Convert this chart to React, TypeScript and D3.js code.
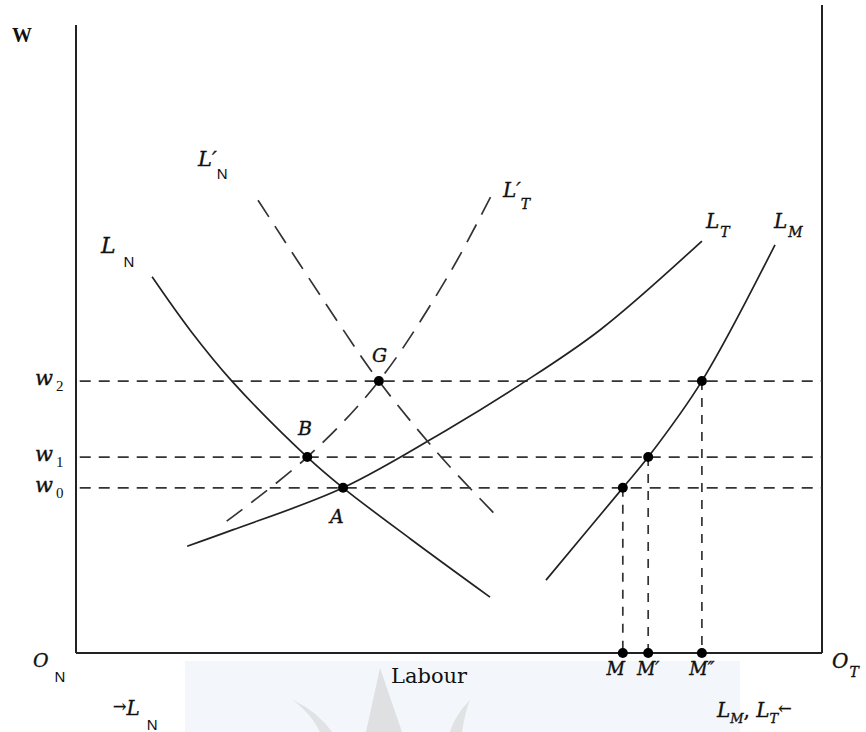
import React from 'react';
import * as d3 from 'd3';

// wage levels w0, w1, w2
const wageSubs = ['0', '1', '2'];
const wages = [26.3, 31.2, 43.3];

// equilibrium points on the left side
const pointNames = ['A', 'B', 'G'];
const pointX = [35.8, 31.0, 40.6];

// points on L_M and their feet on the horizontal axis
const mNames = ['M', 'M\u2032', 'M\u2033'];
const mX = [73.3, 76.7, 83.9];

// curves, [labour, wage]
const curveLN = [[10.2, 59.9], [15.3, 51.4], [20.9, 43.3], [31.0, 31.2], [35.8, 26.3], [44.8, 18.2], [55.5, 8.9]];
const curveLT = [[14.9, 17.0], [21.0, 19.6], [35.8, 26.3], [50.1, 35.8], [59.5, 42.7], [70.2, 51.4], [83.9, 65.6]];
const curveLM = [[63.0, 11.6], [73.3, 26.3], [76.7, 31.2], [83.9, 43.3], [93.7, 65.0]];
const curveLNp = [[24.4, 72.1], [30.0, 61.9], [35.4, 52.2], [40.6, 43.3], [48.8, 31.4], [56.0, 22.3]];
const curveLTp = [[20.2, 21.0], [31.0, 31.2], [40.6, 43.3], [50.1, 60.5], [55.9, 73.4]];

const W = 866;
const H = 732;
const serif = '"DejaVu Serif", "Liberation Serif", serif';
const times = '"Liberation Serif", "Times New Roman", serif';
const sans = '"Liberation Sans", Arial, sans-serif';
const ink = '#222';

export default function App() {
  const x = d3.scaleLinear().domain([0, 100]).range([76, 822]);
  const y = d3.scaleLinear().domain([0, 100]).range([653, 25]);

  const line = d3.line<number[]>()
    .x(d => x(d[0]))
    .y(d => y(d[1]))
    .curve(d3.curveCatmullRom.alpha(0.5));

  // slightly heavier italic, like the printed labels
  const it = { fontFamily: serif, fontStyle: 'italic', fill: '#111', stroke: '#111', strokeWidth: 0.35 } as const;
  const subN = { fontFamily: sans, fontStyle: 'normal', fontSize: 15, strokeWidth: 0 } as const;

  return (
    <svg width={W} height={H} style={{ position: 'absolute', left: 0, top: 0, background: '#fff' }}>
      {/* faint scan watermark */}
      <rect x={185} y={661} width={555} height={71} fill="#f3f7fb" />
      <path d="M293,700 Q312,715 320,732 L332,732 Q318,712 293,700 Z" fill="#d9d9d9" opacity={0.7} />
      <path d="M380,668 L366,732 L402,732 Z" fill="#d6d6d6" opacity={0.7} />
      <path d="M470,700 Q455,715 450,732 L462,732 Q465,712 470,700 Z" fill="#d9d9d9" opacity={0.7} />

      {/* frame */}
      <line x1={x(0)} x2={x(0)} y1={y(100)} y2={y(0)} stroke={ink} strokeWidth={2} />
      <line x1={x(0)} x2={x(100)} y1={y(0)} y2={y(0)} stroke={ink} strokeWidth={2} />
      <line x1={x(100)} x2={x(100)} y1={y(103.2)} y2={y(0)} stroke={ink} strokeWidth={2} />

      {/* wage lines */}
      {wages.map((w, i) => (
        <line key={'h' + i} x1={x(0.5)} x2={x(100)} y1={y(w)} y2={y(w)}
          stroke="#333" strokeWidth={1.7} strokeDasharray="11,8" />
      ))}
      {mX.map((m, i) => (
        <line key={'v' + i} x1={x(m)} x2={x(m)} y1={y(wages[i])} y2={y(0)}
          stroke="#333" strokeWidth={1.7} strokeDasharray="9,8" />
      ))}

      {/* curves */}
      <path d={line(curveLN) || ''} fill="none" stroke={ink} strokeWidth={1.7} />
      <path d={line(curveLT) || ''} fill="none" stroke={ink} strokeWidth={1.7} />
      <path d={line(curveLM) || ''} fill="none" stroke={ink} strokeWidth={1.7} />
      <path d={line(curveLNp) || ''} fill="none" stroke="#333" strokeWidth={1.7} strokeDasharray="20,11" />
      <path d={line(curveLTp) || ''} fill="none" stroke="#333" strokeWidth={1.7} strokeDasharray="20,11" />

      {/* dots */}
      {pointX.map((p, i) => (
        <circle key={'p' + i} cx={x(p)} cy={y(wages[i])} r={5} fill="#000" />
      ))}
      {mX.map((m, i) => (
        <g key={'m' + i}>
          <circle cx={x(m)} cy={y(wages[i])} r={5} fill="#000" />
          <circle cx={x(m)} cy={y(0)} r={5} fill="#000" />
        </g>
      ))}

      {/* axis labels */}
      <text x={12} y={42} fontFamily={times} fontWeight="bold" fontSize={20} fill="#111">W</text>
      {wages.map((w, i) => (
        <text key={'wl' + i} x={35} y={y(w) + 4} {...it} fontSize={21}>
          w<tspan fontFamily={times} fontStyle="normal" fontSize={15} strokeWidth={0} dx={3} dy={6}>{wageSubs[i]}</tspan>
        </text>
      ))}
      <text x={33} y={667} {...it} fontSize={19}>
        O<tspan {...subN} dx={6} dy={15}>N</tspan>
      </text>
      <text x={832} y={668} {...it} fontSize={20}>
        O<tspan fontSize={14} dx={1} dy={9}>T</tspan>
      </text>
      <text x={391} y={683} fontFamily={serif} fontSize={21} fill="#111">Labour</text>
      <text x={113} y={715} {...it} fontSize={20}>
        <tspan fontStyle="normal" fontSize={16} dy={-3}>{'\u2192'}</tspan>
        <tspan dy={3}>L</tspan>
        <tspan {...subN} dx={7} dy={15}>N</tspan>
      </text>
      <text x={717} y={717} {...it} fontSize={20}>
        L<tspan fontSize={13} dy={6}>M</tspan>
        <tspan fontStyle="normal" dy={-6}>, </tspan>
        <tspan>L</tspan>
        <tspan fontSize={13} dy={6}>T</tspan>
        <tspan fontStyle="normal" fontSize={16} dy={-9}>{'\u2190'}</tspan>
      </text>

      {/* point labels */}
      {mNames.map((n, i) => (
        <text key={'mn' + i} x={x(mX[i]) - (i === 0 ? 7 : 0)} y={675} textAnchor="middle" {...it} fontSize={18}>{n}</text>
      ))}
      <text x={330} y={523} {...it} fontSize={19}>{pointNames[0]}</text>
      <text x={298} y={435} {...it} fontSize={19}>{pointNames[1]}</text>
      <text x={372} y={362} {...it} fontSize={19}>{pointNames[2]}</text>

      {/* curve labels */}
      <text x={101} y={253} {...it} fontSize={22}>
        L<tspan {...subN} dx={8} dy={14}>N</tspan>
      </text>
      <text x={198} y={166} {...it} fontSize={21}>
        L{'\u2032'}<tspan {...subN} dx={0} dy={13}>N</tspan>
      </text>
      <text x={503} y={197} {...it} fontSize={20}>
        L{'\u2032'}<tspan fontSize={14} dx={0} dy={12}>T</tspan>
      </text>
      <text x={706} y={228} {...it} fontSize={20}>
        L<tspan fontSize={14} dx={1} dy={9}>T</tspan>
      </text>
      <text x={774} y={228} {...it} fontSize={20}>
        L<tspan fontSize={14} dx={1} dy={9}>M</tspan>
      </text>
    </svg>
  );
}
